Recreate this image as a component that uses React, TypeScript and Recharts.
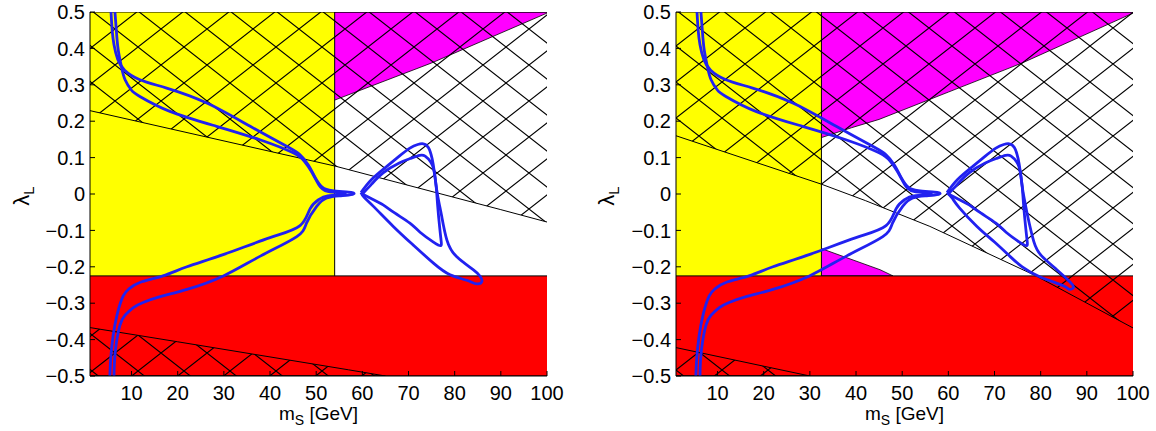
import { ComposedChart, Area, Line, XAxis, YAxis } from 'recharts'

type Pt = [number, number]

const FONT = '"Liberation Sans", Arial, Helvetica, sans-serif'

const xTicks = [10, 20, 30, 40, 50, 60, 70, 80, 90, 100]
const yTicks = [-0.5, -0.4, -0.3, -0.2, -0.1, 0, 0.1, 0.2, 0.3, 0.4, 0.5]
const xDomain: [number, number] = [1, 100]
const yDomain: [number, number] = [-0.5, 0.5]

// red band: lambda_L below this value is excluded in both panels
const lambdaMin = -0.225

// left panel
const leftYellowEdge = 54
const leftMagentaEdge: Pt[] = [[54, 0.258], [75, 0.36], [100, 0.497]]
const leftHatchUpper: Pt[] = [[1, 0.229], [54, 0.077], [90, -0.043], [100, -0.077]]
const leftHatchLower: Pt[] = [[1, -0.367], [20, -0.406], [57, -0.483], [65, -0.5]]

// right panel
const rightYellowEdge = 32.5
const rightMagentaEdge: Pt[] = [[32.5, 0.155], [39, 0.182], [45, 0.205], [60, 0.28], [76, 0.36], [100, 0.497]]
const rightMagentaLow: Pt[] = [[32.5, -0.15], [45.2, -0.208], [48, -0.225]]
const rightHatchUpper: Pt[] = [[1, 0.16], [32.5, 0.027], [42, -0.018], [56, -0.089], [79, -0.225], [100, -0.368]]
const rightHatchLower: Pt[] = [[1, -0.422], [30, -0.5]]

// relic density contours (two branches joined through the narrow tongue)
const contourOuter: Pt[] = [
  [5.55, 0.5], [5.8, 0.45], [6.2, 0.41], [7, 0.37], [8.5, 0.34], [11.8, 0.314], [17.6, 0.291],
  [26.3, 0.25], [35.7, 0.186], [43.6, 0.131], [46.5, 0.108], [48.3, 0.08], [49.8, 0.045],
  [51.3, 0.019], [53.5, 0.009], [57, 0.005], [58.2, 0.001], [57, -0.003], [55, -0.005],
  [52.3, -0.011], [50.1, -0.034], [47.9, -0.08], [45.8, -0.117], [38, -0.17], [29.9, -0.225],
  [22, -0.262], [16.2, -0.282], [12.5, -0.298], [10.4, -0.312], [8.6, -0.333], [7.5, -0.36],
  [6.7, -0.41], [6.3, -0.46], [6.2, -0.5],
]
const contourInner: Pt[] = [
  [6.4, 0.5], [6.7, 0.45], [7.1, 0.397], [7.8, 0.35], [8.6, 0.314], [10, 0.285], [11.8, 0.268],
  [18.3, 0.227], [28.4, 0.186], [37.8, 0.149], [45, 0.113], [47.4, 0.09], [48.9, 0.063],
  [50.6, 0.025], [52.5, 0.007], [55.8, 0.002], [56.3, 0], [55.8, -0.002], [52.5, -0.005],
  [50.6, -0.015], [48.7, -0.04], [46.5, -0.087], [40, -0.12], [30, -0.166], [22, -0.2],
  [16.8, -0.225], [11.8, -0.243], [9.5, -0.26], [8.2, -0.28], [6.9, -0.33], [6, -0.39],
  [5.5, -0.45], [5.3, -0.5],
]
const loopInner: Pt[] = [
  [60, 0], [62, 0.027], [64.5, 0.058], [68, 0.085], [70.5, 0.098], [72.4, 0.106], [73.6, 0.104],
  [74.8, 0.088], [75.5, 0.065], [76, 0.02], [76.3, -0.03], [76.8, -0.098], [77.1, -0.133],
  [76.9, -0.142], [75.4, -0.132], [72.5, -0.105], [70.3, -0.08], [67, -0.052], [64.5, -0.03],
  [62, -0.013], [60, 0],
]
const loopOuterLeft: Pt[] = [
  [59.7, 0.004], [62, 0.04], [65.3, 0.076], [68, 0.104], [70.3, 0.126], [72, 0.136], [73.2, 0.138],
  [74.3, 0.128], [75.1, 0.098], [75.6, 0.06], [76.1, 0.012], [76.7, -0.03], [77.2, -0.062],
  [78.3, -0.126], [80.4, -0.172], [84, -0.208], [85.5, -0.226], [85.9, -0.24], [84.8, -0.247],
  [82.6, -0.237], [79, -0.222], [75.4, -0.19], [71, -0.14], [66.7, -0.089], [62.4, -0.034],
  [60.3, -0.008], [59.7, 0.004],
]
const loopOuterRight: Pt[] = [
  [59.7, 0.004], [62, 0.04], [65.3, 0.076], [68, 0.104], [70.3, 0.126], [72, 0.136], [73.2, 0.138],
  [74.3, 0.128], [75.1, 0.098], [75.6, 0.06], [76.1, 0.012], [76.7, -0.03], [77.2, -0.062],
  [78.5, -0.13], [80.2, -0.17], [83.5, -0.208], [86.2, -0.24], [87.1, -0.257], [86.2, -0.262],
  [84.9, -0.252], [79.9, -0.228], [76, -0.2], [73.4, -0.172], [70, -0.132], [66.2, -0.089],
  [62.4, -0.038], [60.8, -0.011], [59.7, 0.004],
]

const xy = (pts: Pt[]) => pts.map(([x, y]) => ({ x, y }))
const above = (pts: Pt[]) => pts.map(([x, y]) => ({ x, lo: y, hi: yDomain[1] }))
const below = (pts: Pt[]) => pts.map(([x, y]) => ({ x, lo: yDomain[0], hi: y }))
const rect = (x0: number, x1: number, lo: number, hi: number) => [
  { x: x0, lo, hi },
  { x: x1, lo, hi },
]
const range = (d: any) => [d.lo, d.hi]

const tickStyle = { fill: '#000', fontSize: 20, fontFamily: FONT }
const fmtY = (v: number) => (v === 0 ? '0' : (v < 0 ? '\u2212' : '') + Math.abs(v).toFixed(1))

const XTitle = (props: any) => {
  const { x, y, width } = props.viewBox
  return (
    <text x={x + width / 2} y={y + 44} textAnchor="middle" fontSize={19} fontFamily={FONT} fill="#000">
      m<tspan dy={5} fontSize={14}>S</tspan>
      <tspan dy={-5}> [GeV]</tspan>
    </text>
  )
}

const YTitle = (props: any) => {
  const { x, y, height } = props.viewBox
  const cx = x + 29
  const cy = y + height / 2 + 2
  return (
    <text
      x={cx}
      y={cy}
      transform={`rotate(-90 ${cx} ${cy})`}
      textAnchor="middle"
      fontSize={22}
      fontFamily={FONT}
      fill="#000"
    >
      λ<tspan dy={5} fontSize={15}>L</tspan>
    </text>
  )
}

interface PanelProps {
  id: string
  left: number
  width: number
  right: number
  yAxisWidth: number
  hatchShift: [number, number]
  yellowEdge: number
  magentaEdge: Pt[]
  magentaLow?: Pt[]
  hatchUpper: Pt[]
  hatchLower: Pt[]
  loopOuter: Pt[]
}

function Panel(p: PanelProps) {
  const blue = { stroke: '#2121f0', strokeWidth: 2.8, dot: false, isAnimationActive: false, type: 'natural' as const }
  const edge = { stroke: '#000', strokeWidth: 1, dot: false, isAnimationActive: false, type: 'linear' as const }
  return (
    <div style={{ position: 'absolute', left: p.left, top: 0 }}>
      <ComposedChart width={p.width} height={431} margin={{ top: 12, right: p.right, bottom: 0, left: 0 }}>
        <defs>
          <pattern id={p.id} patternUnits="userSpaceOnUse" x={p.hatchShift[0]} y={p.hatchShift[1]} width={46} height={36}>
            <path d="M-2,-1.565 L48,37.565 M-2,37.565 L48,-1.565" stroke="#000" strokeWidth={1.1} fill="none" />
          </pattern>
        </defs>

        <Area data={rect(1, p.yellowEdge, lambdaMin, yDomain[1])} dataKey={range} type="linear"
          fill="#ffff00" fillOpacity={1} stroke="none" isAnimationActive={false} />
        <Area data={above(p.magentaEdge)} dataKey={range} type="linear"
          fill="#ff00ff" fillOpacity={1} stroke="#000" strokeWidth={0.8} isAnimationActive={false} />
        {p.magentaLow && (
          <Area data={p.magentaLow.map(([x, y]) => ({ x, lo: lambdaMin, hi: y }))} dataKey={range} type="linear"
            fill="#ff00ff" fillOpacity={1} stroke="#000" strokeWidth={0.8} isAnimationActive={false} />
        )}
        <Area data={rect(1, 100, yDomain[0], lambdaMin)} dataKey={range} type="linear"
          fill="#ff0000" fillOpacity={1} stroke="#000" strokeWidth={1} isAnimationActive={false} />
        <Area data={above(p.hatchUpper)} dataKey={range} type="linear"
          fill={`url(#${p.id})`} fillOpacity={1} stroke="#000" strokeWidth={1} isAnimationActive={false} />
        <Area data={below(p.hatchLower)} dataKey={range} type="linear"
          fill={`url(#${p.id})`} fillOpacity={1} stroke="#000" strokeWidth={1} isAnimationActive={false} />

        <Line data={xy([[p.yellowEdge, lambdaMin], [p.yellowEdge, yDomain[1]]])} dataKey="y" {...edge} />

        <Line data={xy(contourOuter)} dataKey="y" {...blue} />
        <Line data={xy(contourInner)} dataKey="y" {...blue} />
        <Line data={xy(loopInner)} dataKey="y" {...blue} />
        <Line data={xy(p.loopOuter)} dataKey="y" {...blue} />

        <XAxis dataKey="x" type="number" domain={xDomain} ticks={xTicks} interval={0} allowDataOverflow
          height={55} tickSize={-5} tickMargin={15} tick={tickStyle}
          axisLine={{ stroke: '#000' }} tickLine={{ stroke: '#000' }} label={{ content: XTitle }} />
        <XAxis xAxisId="top" orientation="top" type="number" domain={xDomain} ticks={xTicks} interval={0}
          allowDataOverflow height={0} tickSize={-5} tickFormatter={() => ''}
          axisLine={{ stroke: '#000' }} tickLine={{ stroke: '#000' }} />
        <YAxis type="number" domain={yDomain} ticks={yTicks} interval={0} allowDataOverflow
          width={p.yAxisWidth} tickSize={-5} tickMargin={10} tick={tickStyle} tickFormatter={fmtY}
          axisLine={{ stroke: '#000' }} tickLine={{ stroke: '#000' }} label={{ content: YTitle }} />
        <YAxis yAxisId="right" orientation="right" type="number" domain={yDomain} ticks={yTicks} interval={0}
          allowDataOverflow width={0} tickSize={-5} tickFormatter={() => ''}
          axisLine={{ stroke: '#000' }} tickLine={{ stroke: '#000' }} />
      </ComposedChart>
    </div>
  )
}

export default function App() {
  return (
    <div style={{ position: 'absolute', left: 0, top: 0, width: 1156, height: 431, background: '#fff' }}>
      <Panel
        id="hatchLeft"
        left={0}
        width={580}
        right={33}
        yAxisWidth={90}
        hatchShift={[0, 11]}
        yellowEdge={leftYellowEdge}
        magentaEdge={leftMagentaEdge}
        hatchUpper={leftHatchUpper}
        hatchLower={leftHatchLower}
        loopOuter={loopOuterLeft}
      />
      <Panel
        id="hatchRight"
        left={585}
        width={571}
        right={23}
        yAxisWidth={91}
        hatchShift={[-1, 10]}
        yellowEdge={rightYellowEdge}
        magentaEdge={rightMagentaEdge}
        magentaLow={rightMagentaLow}
        hatchUpper={rightHatchUpper}
        hatchLower={rightHatchLower}
        loopOuter={loopOuterRight}
      />
    </div>
  )
}
